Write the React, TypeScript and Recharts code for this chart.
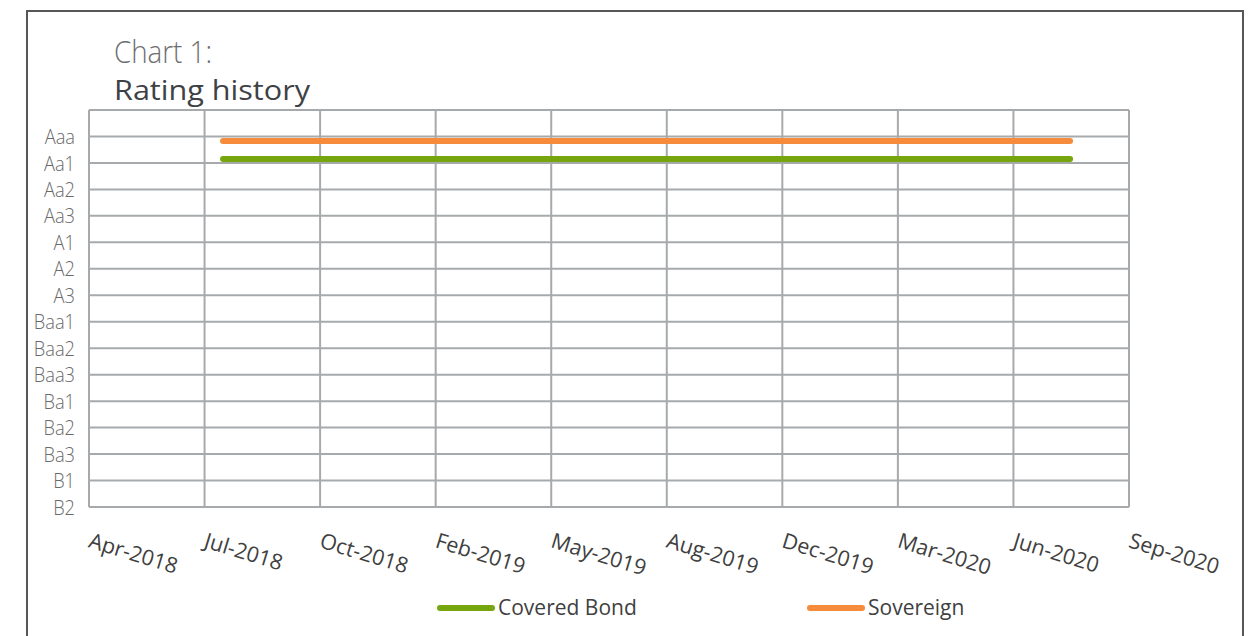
import React from 'react';
import { LineChart, Line, XAxis, YAxis, CartesianGrid, Legend } from 'recharts';

// Axis start (Excel date axis, 100-day major unit)
const AXIS_START = '2018-04-11';
const xTickDays = [0, 100, 200, 300, 400, 500, 600, 700, 800, 900];
const xTickLabels = ['Apr-2018', 'Jul-2018', 'Oct-2018', 'Feb-2019', 'May-2019', 'Aug-2019', 'Dec-2019', 'Mar-2020', 'Jun-2020', 'Sep-2020'];

const ratings = ['Aaa', 'Aa1', 'Aa2', 'Aa3', 'A1', 'A2', 'A3', 'Baa1', 'Baa2', 'Baa3', 'Ba1', 'Ba2', 'Ba3', 'B1', 'B2'];
const yTicks = [0, 1, 2, 3, 4, 5, 6, 7, 8, 9, 10, 11, 12, 13, 14, 15];

const dates = ['2018-08-05', '2020-08-07'];
const coveredBond = [1.85, 1.85];
const sovereign = [1.17, 1.17];

const seriesNames = ['Covered Bond', 'Sovereign'];
const seriesColors = ['#76A50D', '#F68B3C'];

const DAY = 86400000;
const toDay = (d: string) => (Date.parse(d) - Date.parse(AXIS_START)) / DAY;

const data = dates.map((d, i) => ({ day: toDay(d), cb: coveredBond[i], sov: sovereign[i] }));

const FONT = '"Open Sans", sans-serif';

const XTick = (props: any) => {
  const { x, y, payload } = props;
  const idx = xTickDays.indexOf(payload.value);
  const label = idx >= 0 ? xTickLabels[idx] : '';
  const tx = x - 1.5;
  return (
    <text
      x={tx}
      y={y}
      transform={`rotate(17, ${tx}, ${y})`}
      fontSize={21.5}
      fill="#404040"
      fontFamily={FONT}
      textAnchor="start"
    >
      {label}
    </text>
  );
};

const YTick = (props: any) => {
  const { x, y, payload, side } = props;
  const r = ratings[payload.value - 1];
  if (!r) return null;
  const label = side === 'right' ? `${r} (cr)` : r;
  return (
    <text
      transform={`translate(${x}, ${y}) scale(0.87, 1)`}
      x={0}
      y={0}
      dy="0.36em"
      fontSize={21}
      fontWeight={300}
      fill="#6A6A6A"
      fontFamily={FONT}
      textAnchor={side === 'right' ? 'start' : 'end'}
    >
      {label}
    </text>
  );
};

const LegendContent = () => {
  const lefts = [437, 807];
  return (
    <div style={{ position: 'relative', height: 30, width: '100%' }}>
      {seriesNames.map((n, i) => (
        <div key={n}>
          <div
            style={{
              position: 'absolute',
              left: lefts[i],
              top: 13,
              width: 58,
              height: 6,
              borderRadius: 3,
              background: seriesColors[i],
            }}
          />
          <div
            style={{
              position: 'absolute',
              left: lefts[i] + 61,
              top: 0,
              fontFamily: FONT,
              fontSize: 21,
              lineHeight: '30px',
              color: '#404040',
              whiteSpace: 'nowrap',
            }}
          >
            {n}
          </div>
        </div>
      ))}
    </div>
  );
};

export default function App() {
  return (
    <div style={{ position: 'absolute', left: 0, top: 0, width: 1256, height: 636, overflow: 'hidden', background: '#fff' }}>
      <div
        style={{
          position: 'absolute',
          left: 26,
          top: 10,
          width: 1214,
          height: 700,
          border: '2px solid #555759',
        }}
      />
      <svg style={{ position: 'absolute', left: 0, top: 0 }} width={1256} height={120}>
        <text x={114} y={63} fontFamily={FONT} fontWeight={300} fontSize={32} fill="#6D6E71" textLength={98} lengthAdjust="spacingAndGlyphs">
          Chart 1:
        </text>
        <text x={114} y={100} fontFamily={FONT} fontWeight={400} fontSize={28} fill="#3E4145" textLength={196} lengthAdjust="spacingAndGlyphs">
          Rating history
        </text>
      </svg>
      <div style={{ position: 'absolute', left: 0, top: 0 }}>
        <LineChart width={1256} height={636} data={data} margin={{ top: 110, right: 0, bottom: 14, left: 0 }}>
          <CartesianGrid stroke="#A7AAAD" strokeWidth={2} fill="none" />
          <XAxis
            dataKey="day"
            type="number"
            domain={[0, 900]}
            ticks={xTickDays}
            interval={0}
            tick={<XTick />}
            tickLine={false}
            axisLine={false}
            tickSize={0}
            tickMargin={40}
            height={85}
          />
          <YAxis
            type="number"
            domain={[0, 15]}
            reversed
            ticks={yTicks}
            interval={0}
            width={89}
            axisLine={false}
            tickLine={false}
            tickSize={0}
            tickMargin={14}
            tick={<YTick side="left" />}
          />
          <YAxis
            yAxisId="r"
            orientation="right"
            type="number"
            domain={[0, 15]}
            reversed
            ticks={yTicks}
            interval={0}
            width={127}
            axisLine={false}
            tickLine={false}
            tickSize={0}
            tickMargin={21}
            tick={<YTick side="right" />}
          />
          <Legend verticalAlign="bottom" content={<LegendContent />} />
          <Line
            dataKey="cb"
            name={seriesNames[0]}
            stroke={seriesColors[0]}
            strokeWidth={6}
            strokeLinecap="round"
            dot={false}
            activeDot={false}
            isAnimationActive={false}
          />
          <Line
            dataKey="sov"
            name={seriesNames[1]}
            stroke={seriesColors[1]}
            strokeWidth={6}
            strokeLinecap="round"
            dot={false}
            activeDot={false}
            isAnimationActive={false}
          />
        </LineChart>
      </div>
    </div>
  );
}
